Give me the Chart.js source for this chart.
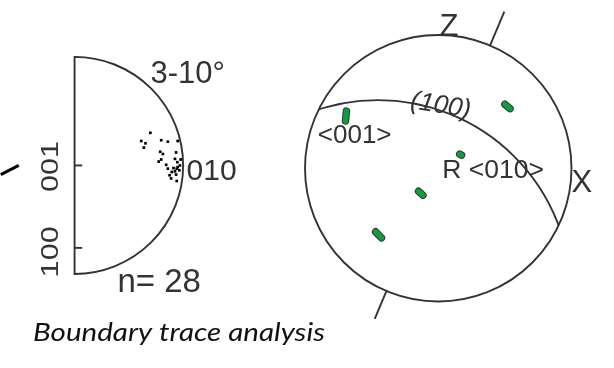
<!DOCTYPE html>
<html>
<head>
<meta charset="utf-8">
<script src="https://cdn.jsdelivr.net/npm/chart.js@4.4.1/dist/chart.umd.min.js"></script>
<style>
  html, body { margin: 0; padding: 0; background: #fff; overflow: hidden; }
  canvas { display: block; }
</style>
</head>
<body>
<canvas id="nets" width="614" height="368"></canvas>
<script>
// ---- Left net: misorientation axes (3-10°), crystal frame, half stereonet (unit radius) ----
const axisX = [0.698, 0.614, 0.653, 0.638, 0.798, 0.859, 0.935, 0.789, 0.814, 0.775,
               0.798, 0.844, 0.859, 0.925, 0.947, 0.911, 0.925, 0.950, 0.971, 0.895,
               0.935, 0.875, 0.889, 0.941, 0.965, 0.941, 0.977, 0.950];
const axisY = [0.303, 0.227, 0.206, 0.166, 0.234, 0.221, 0.121, 0.127, 0.106, 0.036,
               0.055, 0.006, -0.030, 0.061, 0.030, -0.025, -0.055, -0.015, 0.000, -0.061,
               -0.085, -0.091, -0.121, -0.145, -0.045, -0.030, 0.055, 0.227];
const crystalTickLabels = ['001', '100'];
const crystalTickPos = [0, -0.766];
const sideAxisLabel = '010';
const angleRange = '3-10°';
const countLabel = 'n= 28';
const boundaryStub = [[-0.68, -0.085], [-0.514, 0]];

// ---- Right net: sample frame, poles of crystal directions ----
const poleTraces = [
  [[-0.689, 0.433], [-0.696, 0.359]],
  [[0.500, 0.485], [0.539, 0.452]],
  [[0.161, 0.107], [0.175, 0.100]],
  [[-0.148, -0.174], [-0.115, -0.204]],
  [[-0.470, -0.481], [-0.426, -0.526]]
];
const plane100 = { dipAzimuth: 25.6, dip: 46.3 };
const traceAzimuth = 22.7;
const traceOuter = [1.285, 1.235];
const rightLabels = ['Z', 'X', '<001>', 'R <010>', '(100)'];
const caption = 'Boundary trace analysis';

const INK = '#333333';
const FONT = '"Liberation Sans", Arial, sans-serif';
const CAPTION_FONT = 'italic 26px Lato, "Open Sans", sans-serif';

function toPts(xs, ys) { return xs.map((x, i) => ({ x, y: ys[i] })); }
function segments(traces) {
  const out = [];
  traces.forEach((t, i) => {
    if (i) out.push({ x: null, y: null });
    t.forEach(p => out.push({ x: p[0], y: p[1] }));
  });
  return out;
}

function label(ctx, text, x, y, opt) {
  ctx.save();
  ctx.translate(x, y);
  if (opt.rot) ctx.rotate(opt.rot * Math.PI / 180);
  if (opt.sx) ctx.scale(opt.sx, 1);
  ctx.font = opt.font;
  ctx.fillStyle = opt.color || INK;
  ctx.textAlign = opt.align || 'left';
  ctx.textBaseline = opt.base || 'alphabetic';
  ctx.fillText(text, 0, 0);
  ctx.restore();
}

const netPlugin = {
  id: 'nets',
  beforeDatasetsDraw(chart) {
    const ctx = chart.ctx;
    const xL = chart.scales.xL, yL = chart.scales.yL;
    const xR = chart.scales.xR, yR = chart.scales.yR;
    ctx.save();
    ctx.strokeStyle = INK;
    ctx.lineWidth = 1.9;

    // half primitive circle of the left net
    const lcx = xL.getPixelForValue(0), lcy = yL.getPixelForValue(0);
    const lr = xL.getPixelForValue(1) - lcx;
    ctx.beginPath();
    ctx.arc(lcx, lcy, lr, -Math.PI / 2, Math.PI / 2);
    ctx.closePath();
    ctx.stroke();
    crystalTickPos.forEach(v => {
      const py = yL.getPixelForValue(v);
      ctx.beginPath();
      ctx.moveTo(lcx, py);
      ctx.lineTo(xL.getPixelForValue(0.07), py);
      ctx.stroke();
    });

    // full primitive circle of the right net
    const rcx = xR.getPixelForValue(0), rcy = yR.getPixelForValue(0);
    const rr = xR.getPixelForValue(1) - rcx;
    ctx.beginPath();
    ctx.arc(rcx, rcy, rr, 0, Math.PI * 2);
    ctx.stroke();

    // great circle of the (100) plane (stereographic projection)
    const d = plane100.dip * Math.PI / 180, a = plane100.dipAzimuth * Math.PI / 180;
    const gx = -Math.tan(d) * Math.sin(a), gy = -Math.tan(d) * Math.cos(a);
    ctx.save();
    ctx.beginPath();
    ctx.arc(rcx, rcy, rr, 0, Math.PI * 2);
    ctx.clip();
    ctx.beginPath();
    ctx.arc(xR.getPixelForValue(gx), yR.getPixelForValue(gy), rr / Math.cos(d), 0, Math.PI * 2);
    ctx.stroke();
    ctx.restore();

    // boundary trace direction, outside the primitive
    const t = traceAzimuth * Math.PI / 180;
    [[1, traceOuter[0]], [-1, traceOuter[1]]].forEach(([s, ro]) => {
      ctx.beginPath();
      ctx.moveTo(xR.getPixelForValue(s * Math.sin(t)), yR.getPixelForValue(s * Math.cos(t)));
      ctx.lineTo(xR.getPixelForValue(s * ro * Math.sin(t)), yR.getPixelForValue(s * ro * Math.cos(t)));
      ctx.stroke();
    });
    ctx.restore();
  },
  afterDatasetsDraw(chart) {
    const ctx = chart.ctx;
    const xL = chart.scales.xL, yL = chart.scales.yL;
    const xR = chart.scales.xR, yR = chart.scales.yR;
    const L = (x, y) => [xL.getPixelForValue(x), yL.getPixelForValue(y)];
    const R = (x, y) => [xR.getPixelForValue(x), yR.getPixelForValue(y)];

    // left net labels
    let p = L(0.70, 0.77);
    label(ctx, angleRange, p[0], p[1], { font: '31px ' + FONT });
    p = L(1.032, -0.136);
    label(ctx, sideAxisLabel, p[0], p[1], { font: '30px ' + FONT });
    p = L(0.395, -1.18);
    label(ctx, countLabel, p[0], p[1], { font: '33px ' + FONT });
    crystalTickLabels.forEach((txt, i) => {
      const q = L(-0.15, crystalTickPos[i] - (i ? 0.037 : 0.01));
      label(ctx, txt, q[0], q[1], { font: '23px ' + FONT, rot: -90, sx: 1.33, align: 'center' });
    });

    // right net labels
    p = R(0.081, 1.005);
    label(ctx, rightLabels[0], p[0], p[1], { font: '31px ' + FONT, align: 'center' });
    p = R(1.0, -0.178);
    label(ctx, rightLabels[1], p[0], p[1], { font: '31px ' + FONT });
    p = R(-0.904, 0.193);
    label(ctx, rightLabels[2], p[0], p[1], { font: '26px ' + FONT });
    p = R(0.03, -0.074);
    label(ctx, rightLabels[3], p[0], p[1], { font: '26.5px ' + FONT });
    p = R(0.0185, 0.474);
    label(ctx, rightLabels[4], p[0], p[1], { font: 'italic 26px ' + FONT, rot: 9, align: 'center', base: 'middle' });

    // caption
    ctx.save();
    ctx.font = CAPTION_FONT;
    const w = ctx.measureText(caption).width;
    ctx.restore();
    label(ctx, caption, 33, 341, { font: CAPTION_FONT, sx: 292 / w, color: '#111' });
  }
};

const hidden = (min, max, axis) => ({ type: 'linear', axis, min, max, display: false });

new Chart(document.getElementById('nets'), {
  type: 'scatter',
  data: {
    datasets: [
      {
        label: 'boundary stub', xAxisID: 'xL', yAxisID: 'yL',
        data: boundaryStub.map(p => ({ x: p[0], y: p[1] })),
        showLine: true, clip: false, borderColor: '#000', borderWidth: 3, pointRadius: 0, order: 3
      },
      {
        label: 'misorientation axes', xAxisID: 'xL', yAxisID: 'yL',
        data: toPts(axisX, axisY),
        pointStyle: 'rect', pointRadius: 1.9, backgroundColor: '#000', borderWidth: 0, order: 1
      },
      {
        label: 'pole outline', xAxisID: 'xR', yAxisID: 'yR',
        data: segments(poleTraces), showLine: true, spanGaps: false,
        borderColor: '#28402e', borderWidth: 7.5, borderCapStyle: 'round', borderJoinStyle: 'round',
        pointRadius: 0, order: 2
      },
      {
        label: 'poles', xAxisID: 'xR', yAxisID: 'yR',
        data: segments(poleTraces), showLine: true, spanGaps: false,
        borderColor: '#1a9646', borderWidth: 5.5, borderCapStyle: 'round', borderJoinStyle: 'round',
        pointRadius: 0, order: 1
      }
    ]
  },
  options: {
    responsive: false,
    animation: false,
    devicePixelRatio: 1,
    layout: { padding: 0 },
    plugins: { legend: { display: false }, tooltip: { enabled: false }, title: { display: false } },
    scales: {
      xL: hidden(-0.65, 4.932, 'x'),
      yL: hidden(-1.845, 1.5, 'y'),
      xR: hidden(-3.259, 1.289, 'x'),
      yR: hidden(-1.4815, 1.244, 'y')
    }
  },
  plugins: [netPlugin]
});
</script>
</body>
</html>
